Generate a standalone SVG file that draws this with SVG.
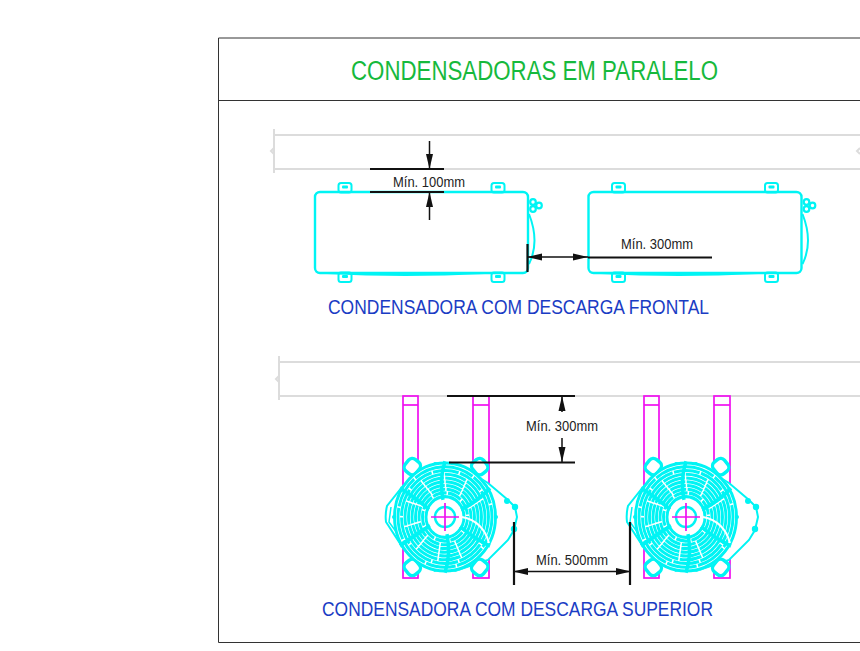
<svg xmlns="http://www.w3.org/2000/svg" xmlns:xlink="http://www.w3.org/1999/xlink" width="860" height="651" viewBox="0 0 860 651">
<style>
.frame{fill:none;stroke:#333;stroke-width:1}
.wall{fill:none;stroke:#dcdcdc;stroke-width:2}
.cy{fill:none;stroke:#00f4f4;stroke-width:2}
.cyt{fill:none;stroke:#00f4f4;stroke-width:2.4}
.mg{fill:none;stroke:#f010f0;stroke-width:1.7}
.ring{fill:none;stroke:#00f4f4;stroke-width:2.9}
.dim{fill:none;stroke:#111;stroke-width:1.5}
.dimb{fill:none;stroke:#111;stroke-width:2.2}
.lab{font-family:"Liberation Sans",Arial,sans-serif;font-size:15px;fill:#222}
.title{font-family:"Liberation Sans",Arial,sans-serif;font-size:27px;fill:#16b93c}
.sub{font-family:"Liberation Sans",Arial,sans-serif;font-size:21px;fill:#1a3cc4}
</style>
<defs>
<marker id="arr" markerUnits="userSpaceOnUse" markerWidth="16" markerHeight="10" refX="15" refY="5" orient="auto"><path d="M0 1.500L15 5L0 8.500Z" fill="#111"/></marker>
<g id="tab"><rect x="-6.500" y="-4.500" width="13" height="9.500" rx="2.500" class="cy"/><rect x="-3" y="-2" width="6" height="3" rx="1" fill="#00f4f4"/></g>
<g id="unit">
<rect x="0" y="0" width="213" height="81" rx="5" class="cyt"/>
<path d="M12 81Q90 85 170 81" class="cy"/>
<path d="M214 22Q225 50 214 72" class="cy"/>
<use xlink:href="#tab" href="#tab" x="30" y="-4.500"/>
<use xlink:href="#tab" href="#tab" x="183" y="-4.500"/>
<use xlink:href="#tab" href="#tab" x="30" y="85"/>
<use xlink:href="#tab" href="#tab" x="183" y="85"/>
<g fill="#fff" stroke="#00f4f4" stroke-width="2.200"><circle cx="218" cy="10" r="2.800"/><circle cx="218" cy="17" r="2.800"/><circle cx="224" cy="13.500" r="2.800"/></g>
</g>
<g id="fan">
<rect x="-42" y="-121" width="15" height="182" class="mg"/><path d="M-42 -112H-27" class="mg"/>
<rect x="28" y="-121" width="16" height="182" class="mg"/><path d="M28 -112H44" class="mg"/>
<path d="M-43 -30L-58 -11Q-60 -3 -59 5L-42 31L-10 54L10 54L43 43L63 23L69 13L72 0L70 -10L63 -17L43 -34L10 -54L-10 -54Z" fill="#fff" stroke="#00f4f4" stroke-width="2"/>
<path d="M-54 -10L-56 5L-40 27" fill="none" stroke="#00f4f4" stroke-width="1.500"/>
<g fill="#00f4f4"><circle cx="62" cy="-16" r="3"/><circle cx="70" cy="-10" r="3.200"/><circle cx="69" cy="12" r="3.200"/></g>
<g fill="#fff" stroke="#00f4f4" stroke-width="3.400">
<rect x="-40" y="-58" width="14" height="15" rx="5" transform="rotate(40 -33 -50)"/>
<rect x="28" y="-58" width="14" height="15" rx="5" transform="rotate(-40 35 -50)"/>
<rect x="-40" y="43" width="14" height="15" rx="5" transform="rotate(-40 -33 50)"/>
<rect x="28" y="43" width="14" height="15" rx="5" transform="rotate(40 35 50)"/>
</g>
<g transform="scale(1,1.070)">
<circle r="51.500" fill="#fff"/>
<circle r="50.500" class="ring"/>
<circle r="47" class="ring" stroke-dasharray="30 1.500"/>
<circle r="43.500" class="ring" stroke-dasharray="26 1.500"/>
<circle r="40" class="ring" stroke-dasharray="22 1.500"/>
<circle r="36.500" class="ring" stroke-dasharray="20 1.500"/>
<circle r="33" class="ring" stroke-dasharray="18 1.500"/>
<circle r="29.500" class="ring" stroke-dasharray="16 1.500"/>
<circle r="26" class="ring" stroke-dasharray="14 1.500"/>
<circle r="22.500" class="ring" stroke-dasharray="14 1.500"/>
<circle r="19" class="ring"/>
<g fill="none" stroke="#00f4f4" stroke-width="3.500">
<path d="M-2 -16Q-6 -35 0 -52"/><path d="M16 -7Q32 -14 45 -27"/><path d="M15 9Q32 22 45 27"/><path d="M2 16Q6 35 0 52"/><path d="M-15 8Q-32 18 -45 27"/><path d="M-16 -7Q-32 -20 -45 -27"/>
</g>
</g>
<circle r="15.500" fill="#fff"/>
<circle r="10" fill="none" stroke="#00f4f4" stroke-width="2.400"/>
<path d="M17 0Q38 4 44 26" fill="none" stroke="#fff" stroke-width="2"/>
<circle cx="-51" cy="0" r="2" fill="#00f4f4"/><circle cx="51" cy="0" r="2" fill="#00f4f4"/>
<path d="M-14 0H14M0 -14V14" class="mg" stroke-width="1.800"/>
</g>
</defs>

<g id="frame">
<path d="M860 38H218.500V642.500H860" class="frame"/>
<path d="M218.500 100.500H860" class="frame"/>
<text x="351" y="80" class="title" textLength="367" lengthAdjust="spacingAndGlyphs">CONDENSADORAS EM PARALELO</text>
</g>

<g id="wall-top">
<path d="M274 135H860M274 169H860M274 129V173M274 148L271 151L274 154" class="wall"/>
<path d="M860 148L857 151L860 154" class="wall"/>
</g>
<g id="wall-bottom">
<path d="M279 362H860M279 396H860M279 356V400M279 376L276 379L279 382" class="wall"/>
</g>

<g id="unit-front-1"><use xlink:href="#unit" href="#unit" x="315" y="192"/></g>
<g id="unit-front-2"><use xlink:href="#unit" href="#unit" x="588.500" y="192"/></g>
<g id="fan-1"><use xlink:href="#fan" href="#fan" x="445" y="517"/></g>
<g id="fan-2"><use xlink:href="#fan" href="#fan" x="686" y="517"/></g>

<g id="connectors">
<path d="M370 169H444M370 192H444" class="dimb"/>
<path d="M429.500 141V169" class="dim" marker-end="url(#arr)"/>
<path d="M429.500 220V192" class="dim" marker-end="url(#arr)"/>
<path d="M527.500 244V272" class="dimb"/>
<path d="M560 257H527" class="dim" marker-end="url(#arr)"/>
<path d="M560 257H588" class="dim" marker-end="url(#arr)"/>
<path d="M588 257.500H712" class="dimb"/>
<path d="M447 396H575M449 462.500H575" class="dimb"/>
<path d="M562 412V396" class="dim" marker-end="url(#arr)"/>
<path d="M562 438V462" class="dim" marker-end="url(#arr)"/>
<path d="M514 522V585M630 522V585" class="dimb"/>
<path d="M572 571.500H513" class="dim" marker-end="url(#arr)"/>
<path d="M572 571.500H631" class="dim" marker-end="url(#arr)"/>
</g>

<g id="labels">
<text x="393" y="187" class="lab" textLength="72" lengthAdjust="spacingAndGlyphs">Mín. 100mm</text>
<text x="621" y="249" class="lab" textLength="72" lengthAdjust="spacingAndGlyphs">Mín. 300mm</text>
<text x="526" y="431" class="lab" textLength="72" lengthAdjust="spacingAndGlyphs">Mín. 300mm</text>
<text x="536" y="565" class="lab" textLength="72" lengthAdjust="spacingAndGlyphs">Mín. 500mm</text>
<text x="328" y="314" class="sub" textLength="381" lengthAdjust="spacingAndGlyphs">CONDENSADORA COM DESCARGA FRONTAL</text>
<text x="322" y="616" class="sub" textLength="391" lengthAdjust="spacingAndGlyphs">CONDENSADORA COM DESCARGA SUPERIOR</text>
</g>
</svg>
